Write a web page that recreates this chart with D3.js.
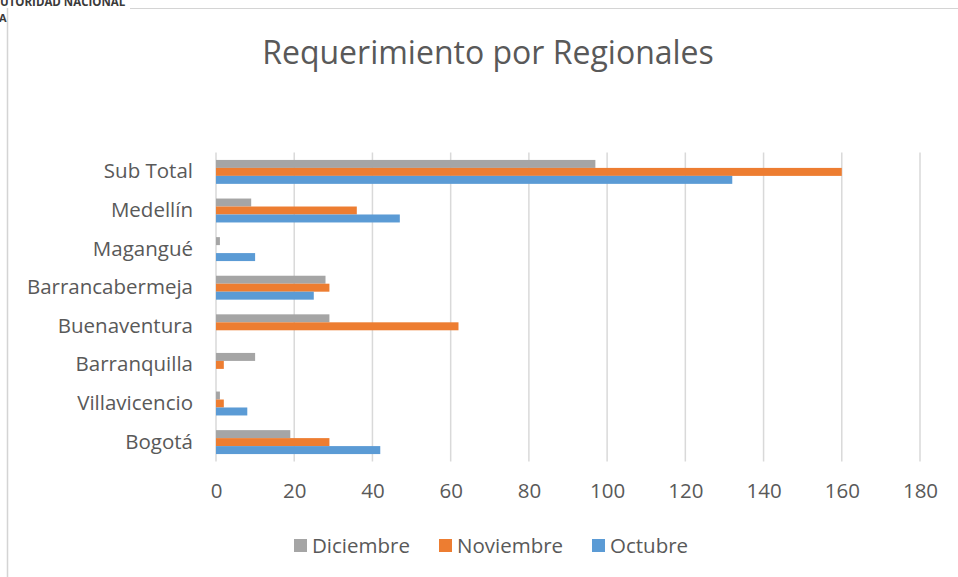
<!DOCTYPE html>
<html>
<head>
<meta charset="utf-8">
<script src="https://cdn.jsdelivr.net/npm/d3@7"></script>
<style>
  body { margin: 0; background: #fff; }
  svg text { font-family: "Open Sans", sans-serif; fill: #595959; }
</style>
</head>
<body>
<div id="chart"></div>
<script>
// data
var regionales = ['Sub Total','Medellín','Magangué','Barrancabermeja','Buenaventura','Barranquilla','Villavicencio','Bogotá'];
var diciembre  = [97, 9, 1, 28, 29, 10, 1, 19];
var noviembre  = [160, 36, 0, 29, 62, 2, 2, 29];
var octubre    = [132, 47, 10, 25, 0, 0, 8, 42];
var xTicks     = [0, 20, 40, 60, 80, 100, 120, 140, 160, 180];
var seriesNames  = ['Diciembre','Noviembre','Octubre'];
var seriesColors = ['#a5a5a5','#ed7d31','#5b9bd5'];

var width = 958, height = 577;
var fontStack = "'Open Sans', sans-serif";
var labelSize = "20.5px";

var svg = d3.select("#chart")
    .append("svg")
    .attr("width", width)
    .attr("height", height);

// frame of the page around the chart
svg.append("line")
    .attr("x1", 130).attr("x2", width)
    .attr("y1", 8.5).attr("y2", 8.5)
    .style("stroke", "#d4d4d4").style("stroke-width", 1);
svg.append("line")
    .attr("x1", 7.5).attr("x2", 7.5)
    .attr("y1", 8).attr("y2", height)
    .style("stroke", "#d4d4d4").style("stroke-width", 1.5);
svg.append("text")
    .attr("x", 0).attr("y", 6)
    .style("font-size", "11.5px")
    .style("font-weight", "bold")
    .style("fill", "#3a3a3a")
    .text("UTORIDAD NACIONAL");
svg.append("text")
    .attr("x", -1).attr("y", 22)
    .style("font-size", "11px")
    .style("font-weight", "bold")
    .style("fill", "#3a3a3a")
    .text("A");

// title
svg.append("text")
    .attr("x", 488).attr("y", 64)
    .attr("text-anchor", "middle")
    .style("font-size", "32px")
    .text("Requerimiento por Regionales");

// scales
var x = d3.scaleLinear()
    .domain([0, 180])
    .range([216, 920]);

var y = d3.scaleBand()
    .domain(regionales)
    .range([152.6, 461.4]);

// gridlines
svg.append("g")
    .selectAll("line")
    .data(xTicks)
    .enter()
    .append("line")
    .attr("x1", function(d) { return x(d); })
    .attr("x2", function(d) { return x(d); })
    .attr("y1", 152.6)
    .attr("y2", 461.4)
    .style("stroke", "#d9d9d9")
    .style("stroke-width", 1.5);

// bars, 3 per region, Diciembre on top
var series = [diciembre, noviembre, octubre];
var groupH = y.bandwidth() * 0.62;
var barH = groupH / 3;
var off = (y.bandwidth() - groupH) / 2;

for (var s = 0; s < series.length; s++) {
    svg.append("g")
        .selectAll("rect")
        .data(series[s])
        .enter()
        .append("rect")
        .attr("x", x(0))
        .attr("y", function(d, i) { return y(regionales[i]) + off + s * barH; })
        .attr("width", function(d) { return x(d) - x(0); })
        .attr("height", barH)
        .style("fill", seriesColors[s]);
}

// x axis labels
var xAxis = svg.append("g")
    .attr("transform", "translate(0,461)")
    .call(d3.axisBottom(x).tickValues(xTicks).tickSize(0).tickPadding(22).tickFormat(d3.format("d")));
xAxis.select(".domain").remove();
xAxis.selectAll("text")
    .style("font-family", fontStack)
    .style("font-size", labelSize)
    .style("fill", "#595959");

// category labels
var yAxis = svg.append("g")
    .attr("transform", "translate(216,0)")
    .call(d3.axisLeft(y).tickSize(0).tickPadding(23));
yAxis.select(".domain").remove();
yAxis.selectAll("text")
    .style("font-family", fontStack)
    .style("font-size", labelSize)
    .style("fill", "#595959");

// legend
var legendX = [294, 439, 592];
var legend = svg.append("g");
for (var k = 0; k < seriesNames.length; k++) {
    legend.append("rect")
        .attr("x", legendX[k]).attr("y", 539)
        .attr("width", 13).attr("height", 13)
        .style("fill", seriesColors[k]);
    legend.append("text")
        .attr("x", legendX[k] + 18).attr("y", 553)
        .style("font-size", labelSize)
        .text(seriesNames[k]);
}
</script>
</body>
</html>
